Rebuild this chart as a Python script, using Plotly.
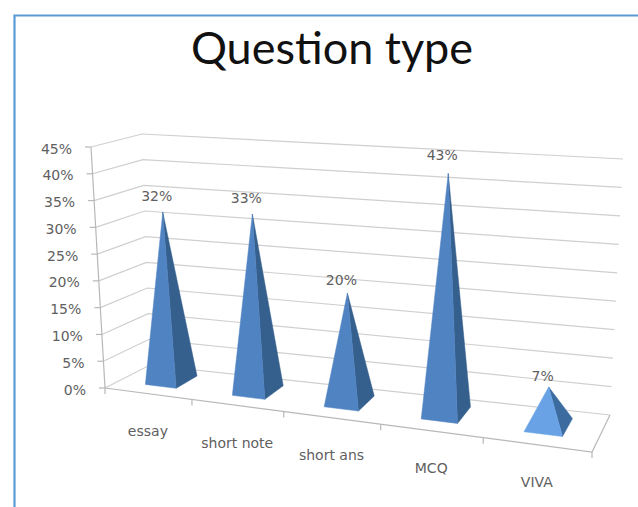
import plotly.graph_objects as go

# Chart content
title = "Question type"
categories = ["essay", "short note", "short ans", "MCQ", "VIVA"]
values = [32, 33, 20, 43, 7]
axis_ticks = [0, 5, 10, 15, 20, 25, 30, 35, 40, 45]

# Face colours per pyramid: (lit side, shaded side)
lit_colors = ["#5083c2", "#5083c2", "#5083c2", "#5083c2", "#69a3e6"]
shade_colors = ["#355f8d", "#355f8d", "#355f8d", "#355f8d", "#3c6c9f"]

GRID = "#cfcfcf"
AXIS = "#b8b8b8"
TEXT = "#606060"
BORDER = "#5b9bd5"
TITLE_FONT = "Lato"
LABEL_FONT = "DejaVu Sans"

# Corners of the 3D box on the page: (x, y) for front/back, bottom/top, left/right
BOX = {
    ("front", "bottom", "left"): (105, 388),
    ("front", "bottom", "right"): (592, 452),
    ("front", "top", "left"): (91, 147),
    ("front", "top", "right"): (601, 187),
    ("back", "bottom", "left"): (150, 365),
    ("back", "bottom", "right"): (610, 415),
    ("back", "top", "left"): (142, 134),
    ("back", "top", "right"): (623, 159),
}
VMAX = axis_ticks[-1]
N = len(categories)
PERSPECTIVE = 0.15
BASE_HALF = 0.18
BASE_FRONT, BASE_BACK = 0.30, 0.80


def project(u, depth, value):
    """Map category position, depth (0 front, 1 back) and value to page coordinates."""
    t = u / N
    s = t / (1 + PERSPECTIVE * (1 - t))
    h = value / VMAX
    out = []
    for i in (0, 1):
        pts = {}
        for d in ("front", "back"):
            bot = BOX[(d, "bottom", "left")][i] * (1 - s) + BOX[(d, "bottom", "right")][i] * s
            top = BOX[(d, "top", "left")][i] * (1 - s) + BOX[(d, "top", "right")][i] * s
            pts[d] = bot * (1 - h) + top * h
        out.append(pts["front"] * (1 - depth) + pts["back"] * depth)
    return tuple(out)


def polyline(points, closed=False):
    xs = [p[0] for p in points]
    ys = [p[1] for p in points]
    if closed:
        xs.append(xs[0])
        ys.append(ys[0])
    return xs, ys


fig = go.Figure()


def add_line(points, color, width=1.2):
    xs, ys = polyline(points)
    fig.add_trace(go.Scatter(x=xs, y=ys, mode="lines", hoverinfo="skip",
                             line=dict(color=color, width=width)))


def add_face(points, color):
    xs, ys = polyline(points, closed=True)
    fig.add_trace(go.Scatter(x=xs, y=ys, mode="lines", fill="toself", fillcolor=color,
                             hoverinfo="skip", line=dict(color=color, width=0.5)))


def add_text(x, y, text, size, color=TEXT, position="middle center", family=LABEL_FONT):
    fig.add_trace(go.Scatter(x=[x], y=[y], mode="text", text=[text], textposition=position,
                             hoverinfo="skip", textfont=dict(family=family, size=size, color=color)))


# Chart border: only the top and left edges fall inside the frame
add_line([(14.5, 507), (14.5, 15.5), (638, 15.5)], BORDER, 2.2)

# Side wall and back wall gridlines
for tick in axis_ticks:
    add_line([project(0, 0, tick), project(0, 1, tick), project(N, 1, tick)], GRID)

# Floor outline, value axis and tick marks
add_line([project(0, 0, 0), project(N, 0, 0), project(N, 1, 0)], AXIS)
add_line([project(0, 0, 0), project(0, 0, VMAX)], AXIS)
for tick in axis_ticks:
    x, y = project(0, 0, tick)
    add_line([(x - 6, y), (x, y)], AXIS)
    add_text(x - 19, y + 3, f"{tick}%", 14, position="middle left")
for i in range(N + 1):
    x, y = project(i, 0, 0)
    add_line([(x, y), (x, y + 6)], AXIS)

# Pyramids and their labels
for i, (name, value) in enumerate(zip(categories, values)):
    centre = i + 0.5
    front_left = project(centre - BASE_HALF, BASE_FRONT, 0)
    front_right = project(centre + BASE_HALF, BASE_FRONT, 0)
    back_right = project(centre + BASE_HALF, BASE_BACK, 0)
    apex = project(centre, 0.5, value)
    add_face([front_right, back_right, apex], shade_colors[i])
    add_face([front_left, front_right, apex], lit_colors[i])
    add_text(apex[0] - 6, apex[1] - (8 + 0.2 * value), f"{value}%", 14)
    x, y = project(centre, 0, 0)
    add_text(x, y + 39, name, 14)

add_text(332, 53, title, 45, color="#111111", family=TITLE_FONT)

fig.update_layout(
    width=638, height=507, margin=dict(l=0, r=0, t=0, b=0),
    paper_bgcolor="white", plot_bgcolor="white", showlegend=False,
    xaxis=dict(range=[0, 638], visible=False, fixedrange=True),
    yaxis=dict(range=[507, 0], visible=False, fixedrange=True),
)
fig.write_html("out.html", config={"displayModeBar": False})
